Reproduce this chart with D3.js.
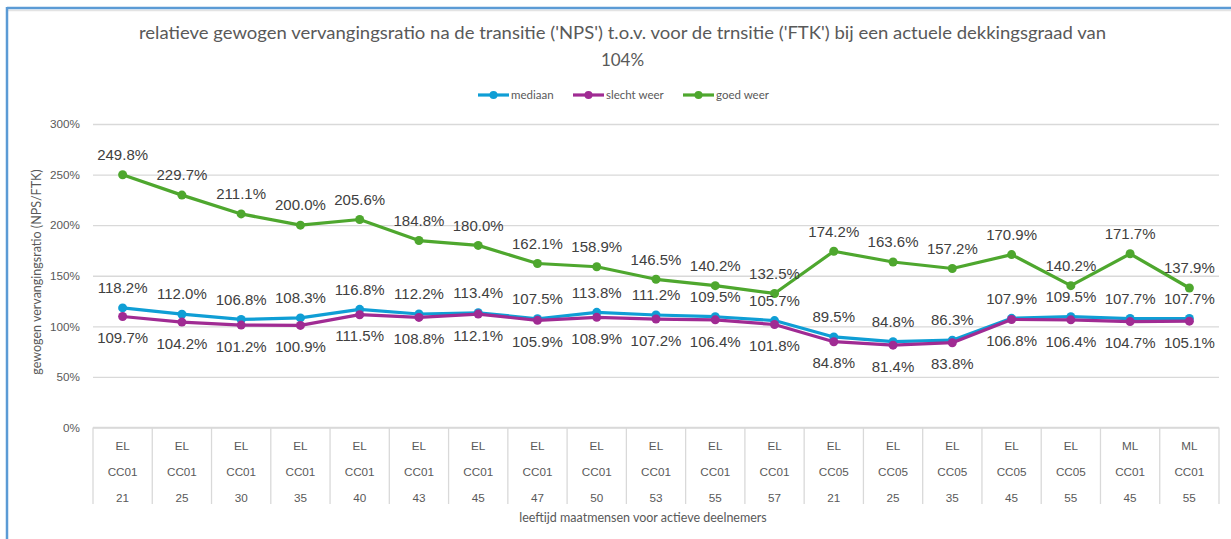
<!DOCTYPE html>
<html><head><meta charset="utf-8">
<script src="https://cdn.jsdelivr.net/npm/d3@7"></script>
<style>html,body{margin:0;padding:0;background:#fff;overflow:hidden}</style>
</head><body>
<svg id="chart" width="1231" height="539"></svg>
<script>
const groups1 = ["EL","EL","EL","EL","EL","EL","EL","EL","EL","EL","EL","EL","EL","EL","EL","EL","EL","ML","ML"];
const groups2 = ["CC01","CC01","CC01","CC01","CC01","CC01","CC01","CC01","CC01","CC01","CC01","CC01","CC05","CC05","CC05","CC05","CC05","CC01","CC01"];
const ages = ["21","25","30","35","40","43","45","47","50","53","55","57","21","25","35","45","55","45","55"];
const mediaan = [118.2,112.0,106.8,108.3,116.8,112.2,113.4,107.5,113.8,111.2,109.5,105.7,89.5,84.8,86.3,107.9,109.5,107.7,107.7];
const slechtWeer = [109.7,104.2,101.2,100.9,111.5,108.8,112.1,105.9,108.9,107.2,106.4,101.8,84.8,81.4,83.8,106.8,106.4,104.7,105.1];
const goedWeer = [249.8,229.7,211.1,200.0,205.6,184.8,180.0,162.1,158.9,146.5,140.2,132.5,174.2,163.6,157.2,170.9,140.2,171.7,137.9];
const yTicks = [0,50,100,150,200,250,300];
const titleLines = ["relatieve gewogen vervangingsratio na de transitie ('NPS') t.o.v. voor de trnsitie ('FTK') bij een actuele dekkingsgraad van","104%"];
const yTitle = "gewogen vervangingsratio (NPS/FTK)";
const xTitle = "leeftijd maatmensen voor actieve deelnemers";

const series = [
  {name:"mediaan", values:mediaan, color:"#0F9ED5", pos:"above"},
  {name:"slecht weer", values:slechtWeer, color:"#A02B93", pos:"below"},
  {name:"goed weer", values:goedWeer, color:"#4EA72E", pos:"above"}
];

const svg = d3.select("#chart");
const W = 1231, H = 539;
const plot = {left:93, right:1219, top:124, bottom:427.5};
const textFont = "Lato, 'Noto Sans', sans-serif";
const numFont = "'Liberation Sans', Arial, sans-serif";

// chart border
svg.append("line").attr("x1",7).attr("x2",W).attr("y1",10.5).attr("y2",10.5).attr("stroke","#e3e3e3").attr("stroke-width",1.5);
svg.append("line").attr("x1",7).attr("x2",W).attr("y1",8).attr("y2",8).attr("stroke","#5B9BD5").attr("stroke-width",2.5);
svg.append("line").attr("x1",7).attr("x2",7).attr("y1",7).attr("y2",H).attr("stroke","#5B9BD5").attr("stroke-width",2.5);

const idx = d3.range(ages.length);
const x = d3.scaleBand().domain(idx).range([plot.left, plot.right]).padding(0);
const y = d3.scaleLinear().domain([0,300]).range([plot.bottom, plot.top]);

// title
titleLines.forEach((t,i)=>{
  const el = svg.append("text").attr("x",622.5).attr("y",i===0?39:66).attr("text-anchor","middle")
    .attr("font-family",textFont).attr("font-size",17).attr("fill","#595959").text(t);
  if(i===0) el.attr("textLength",967).attr("lengthAdjust","spacingAndGlyphs");
});

// gridlines
const yAxis = d3.axisLeft(y).tickValues(yTicks).tickFormat(d=>d+"%").tickSize(-(plot.right-plot.left)).tickPadding(13);
const gy = svg.append("g").attr("transform",`translate(${plot.left},0)`).call(yAxis);
gy.select(".domain").remove();
gy.selectAll(".tick line").attr("stroke","#d9d9d9").attr("stroke-width",1.3);
gy.selectAll(".tick text").attr("font-family",numFont).attr("font-size",11.7).attr("fill","#595959");

// category axis (multi-level)
const gx = svg.append("g");
gx.append("line").attr("x1",plot.left).attr("x2",plot.right).attr("y1",plot.bottom).attr("y2",plot.bottom).attr("stroke","#d9d9d9").attr("stroke-width",1.3);
const bounds = idx.map(i=>x(i)).concat([plot.right]);
gx.selectAll("line.sep").data(bounds).join("line").attr("class","sep")
  .attr("x1",d=>d).attr("x2",d=>d).attr("y1",plot.bottom).attr("y2",504)
  .attr("stroke","#d9d9d9").attr("stroke-width",1.3);
[[groups1,446],[groups2,472],[ages,498]].forEach(([arr,yy])=>{
  gx.selectAll(null).data(idx).join("text")
    .attr("x",i=>x(i)+x.bandwidth()/2).attr("y",yy).attr("dy","0.35em")
    .attr("text-anchor","middle").attr("font-family",numFont).attr("font-size",11.7).attr("fill","#595959")
    .text(i=>arr[i]);
});

// axis titles
svg.append("text").attr("x",643).attr("y",518).attr("dy","0.35em").attr("text-anchor","middle")
  .attr("font-family",textFont).attr("font-size",12.5).attr("fill","#595959").text(xTitle);
svg.append("text").attr("transform","translate(37,272) rotate(-90)").attr("dy","0.35em").attr("text-anchor","middle")
  .attr("font-family",textFont).attr("font-size",12.5).attr("fill","#595959").text(yTitle);

// lines
const line = d3.line().x((d,i)=>x(i)+x.bandwidth()/2).y(d=>y(d));
series.forEach(s=>{
  svg.append("path").datum(s.values).attr("d",line).attr("fill","none")
    .attr("stroke",s.color).attr("stroke-width",3.2).attr("stroke-linejoin","round").attr("stroke-linecap","round");
  svg.selectAll(null).data(s.values).join("circle")
    .attr("cx",(d,i)=>x(i)+x.bandwidth()/2).attr("cy",d=>y(d)).attr("r",4.5).attr("fill",s.color);
});
// labels
series.forEach(s=>{
  svg.selectAll(null).data(s.values).join("text")
    .attr("x",(d,i)=>x(i)+x.bandwidth()/2)
    .attr("y",d=>y(d)+(s.pos==="above"?-20:21.5)).attr("dy","0.35em")
    .attr("text-anchor","middle").attr("font-family",numFont).attr("font-size",15).attr("fill","#404040")
    .text(d=>d.toFixed(1)+"%");
});

// legend
const legend = [{s:series[0],x0:478,tx:511},{s:series[1],x0:573,tx:606},{s:series[2],x0:683,tx:716}];
legend.forEach(l=>{
  const g = svg.append("g");
  g.append("line").attr("x1",l.x0).attr("x2",l.x0+31).attr("y1",95).attr("y2",95).attr("stroke",l.s.color).attr("stroke-width",3.2);
  g.append("circle").attr("cx",l.x0+15.5).attr("cy",95).attr("r",4).attr("fill",l.s.color);
  g.append("text").attr("x",l.tx).attr("y",95).attr("dy","0.35em").attr("font-family",textFont).attr("font-size",11.5).attr("fill","#595959").text(l.s.name);
});
</script>
</body></html>
